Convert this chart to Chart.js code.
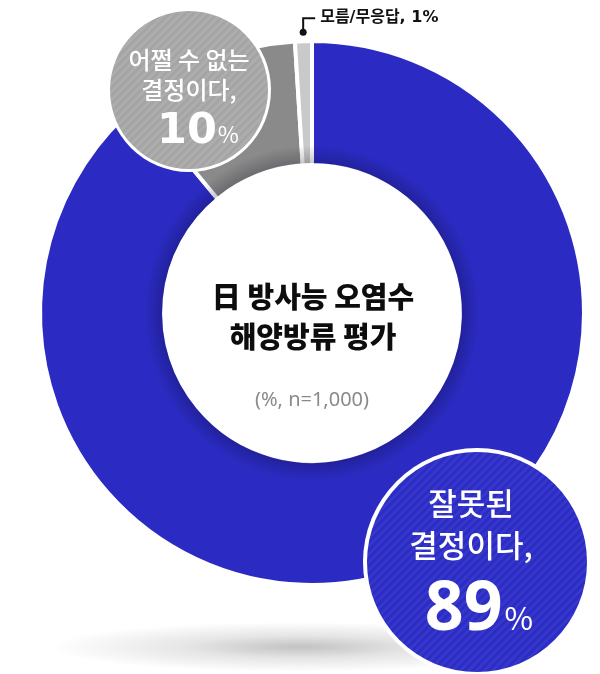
<!DOCTYPE html>
<html>
<head>
<meta charset="utf-8">
<script src="https://cdn.jsdelivr.net/npm/chart.js@4"></script>
<style>
  html, body { margin: 0; padding: 0; background: #ffffff; }
  #wrap { width: 600px; height: 674px; position: relative; }
</style>
</head>
<body>
<div id="wrap"><canvas id="c"></canvas></div>
<script>
// Survey result: evaluation of Japan's ocean discharge of contaminated water
const categories = ['잘못된 결정이다', '어쩔 수 없는 결정이다', '모름/무응답'];
const shares = [89, 10, 1];
const titleLines = ['日 방사능 오염수', '해양방류 평가'];
const subtitle = '(%, n=1,000)';
const bubbleLines = [['잘못된', '결정이다,'], ['어쩔 수 없는', '결정이다,']];
const smallLabel = '모름/무응답';

const SEG_COLORS = ['#2b2bc3', '#8a8a8a', '#c9c9c9'];
const KR = '"Noto Sans CJK KR", "Noto Sans", sans-serif';

// Round callout with diagonal stripes, two text lines and a big percentage
function drawBubble(ctx, cx, cy, r, border, fill, lines, value, st) {
  ctx.save();
  ctx.beginPath();
  ctx.arc(cx, cy, r, 0, Math.PI * 2);
  ctx.fillStyle = '#ffffff';
  ctx.fill();
  ctx.beginPath();
  ctx.arc(cx, cy, r - border, 0, Math.PI * 2);
  ctx.fillStyle = fill;
  ctx.fill();
  ctx.clip();
  ctx.strokeStyle = st.stripe;
  ctx.lineWidth = 3;
  for (let k = -2 * r; k <= 2 * r; k += 8) {
    ctx.beginPath();
    ctx.moveTo(cx + k - r, cy + r);
    ctx.lineTo(cx + k + r, cy - r);
    ctx.stroke();
  }
  ctx.restore();

  ctx.save();
  ctx.fillStyle = '#ffffff';
  ctx.textAlign = 'center';
  ctx.textBaseline = 'middle';
  ctx.font = st.lineFont;
  lines.forEach((t, i) => ctx.fillText(t, cx + st.lineDx, cy + st.lineDy[i]));

  const num = String(value);
  ctx.textBaseline = 'alphabetic';
  ctx.textAlign = 'left';
  ctx.font = st.numFont;
  const wNum = ctx.measureText(num).width;
  ctx.font = st.pctFont;
  const wPct = ctx.measureText('%').width;
  const x0 = cx + st.numDx - (wNum + st.gap + wPct) / 2;
  ctx.font = st.numFont;
  ctx.fillText(num, x0, cy + st.numDy);
  ctx.font = st.pctFont;
  ctx.fillText('%', x0 + wNum + st.gap, cy + st.numDy);
  ctx.restore();
}

const decor = {
  id: 'decor',
  beforeDraw(chart) {
    // soft floor shadow under the ring
    const ctx = chart.ctx;
    const arc = chart.getDatasetMeta(0).data[0];
    const sx = arc.x - 12, sy = arc.y + 334;
    ctx.save();
    ctx.translate(sx, sy);
    ctx.scale(1, 0.1);
    const g = ctx.createRadialGradient(0, 0, 0, 0, 0, 250);
    g.addColorStop(0, 'rgba(0,0,0,0.24)');
    g.addColorStop(0.45, 'rgba(0,0,0,0.10)');
    g.addColorStop(1, 'rgba(0,0,0,0)');
    ctx.fillStyle = g;
    ctx.fillRect(-270, -270, 540, 540);
    ctx.restore();
  },
  afterDatasetsDraw(chart) {
    const ctx = chart.ctx;
    const meta = chart.getDatasetMeta(0);
    const a0 = meta.data[0];
    const cx = a0.x, cy = a0.y;
    const rin = a0.innerRadius + 2;

    // slight inner shading of the ring
    ctx.save();
    const g = ctx.createRadialGradient(cx, cy, rin, cx, cy, rin + 18);
    g.addColorStop(0, 'rgba(0,0,20,0.22)');
    g.addColorStop(1, 'rgba(0,0,20,0)');
    ctx.beginPath();
    ctx.arc(cx, cy, rin + 18, 0, Math.PI * 2);
    ctx.arc(cx, cy, rin, 0, Math.PI * 2, true);
    ctx.fillStyle = g;
    ctx.fill();
    ctx.restore();

    // centre title
    ctx.save();
    ctx.textAlign = 'center';
    ctx.textBaseline = 'middle';
    ctx.fillStyle = '#0d0d0d';
    ctx.font = '900 29px ' + KR;
    ctx.fillText(titleLines[0], cx + 1, cy - 16);
    ctx.fillText(titleLines[1], cx + 1, cy + 24);
    ctx.fillStyle = '#8a8a8a';
    ctx.font = '20px "Noto Sans", ' + KR;
    ctx.fillText(subtitle, cx, cy + 87);
    ctx.restore();

    // leader for the smallest slice
    const a2 = meta.data[2];
    const mid = (a2.startAngle + a2.endAngle) / 2;
    const px = cx + Math.cos(mid) * (a2.outerRadius + 9);
    const py = cy + Math.sin(mid) * (a2.outerRadius + 9);
    ctx.save();
    ctx.strokeStyle = '#111111';
    ctx.fillStyle = '#111111';
    ctx.lineWidth = 2;
    ctx.beginPath();
    ctx.moveTo(px, py);
    ctx.lineTo(px, py - 14);
    ctx.lineTo(px + 12, py - 14);
    ctx.stroke();
    ctx.beginPath();
    ctx.arc(px, py, 3.5, 0, Math.PI * 2);
    ctx.fill();
    ctx.font = 'bold 16px "DejaVu Sans", ' + KR;
    ctx.textAlign = 'left';
    ctx.textBaseline = 'middle';
    ctx.fillText(smallLabel + ', ' + shares[2] + '%', px + 17, py - 14);
    ctx.restore();

    // callouts
    drawBubble(ctx, cx - 123, cy - 223, 82, 3, '#a4a4a4', bubbleLines[1], shares[1], {
      stripe: 'rgba(255,255,255,0.10)',
      lineFont: '500 24px ' + KR,
      lineDx: 0, lineDy: [-30, 0],
      numFont: 'bold 43px "DejaVu Sans", ' + KR,
      pctFont: '23px ' + KR,
      numDx: 9, numDy: 53, gap: 1
    });
    drawBubble(ctx, cx + 165, cy + 249, 114, 4, '#2b2bc6', bubbleLines[0], shares[0], {
      stripe: 'rgba(255,255,255,0.06)',
      lineFont: '500 31px ' + KR,
      lineDx: -6, lineDy: [-59, -17],
      numFont: 'bold 68px "Noto Sans", ' + KR,
      pctFont: '31px ' + KR,
      numDx: 2, numDy: 68, gap: 2
    });
  }
};

new Chart(document.getElementById('c'), {
  type: 'doughnut',
  data: {
    labels: categories,
    datasets: [{
      data: shares,
      backgroundColor: SEG_COLORS,
      borderColor: '#ffffff',
      borderWidth: 4,
      hoverBorderWidth: 4,
      hoverOffset: 0
    }]
  },
  options: {
    responsive: true,
    maintainAspectRatio: false,
    animation: false,
    events: [],
    cutout: '54.4%',
    layout: { padding: { left: 38, right: 14, top: 39, bottom: 87 } },
    plugins: {
      legend: { display: false },
      tooltip: { enabled: false }
    }
  },
  plugins: [decor]
});
</script>
</body>
</html>
